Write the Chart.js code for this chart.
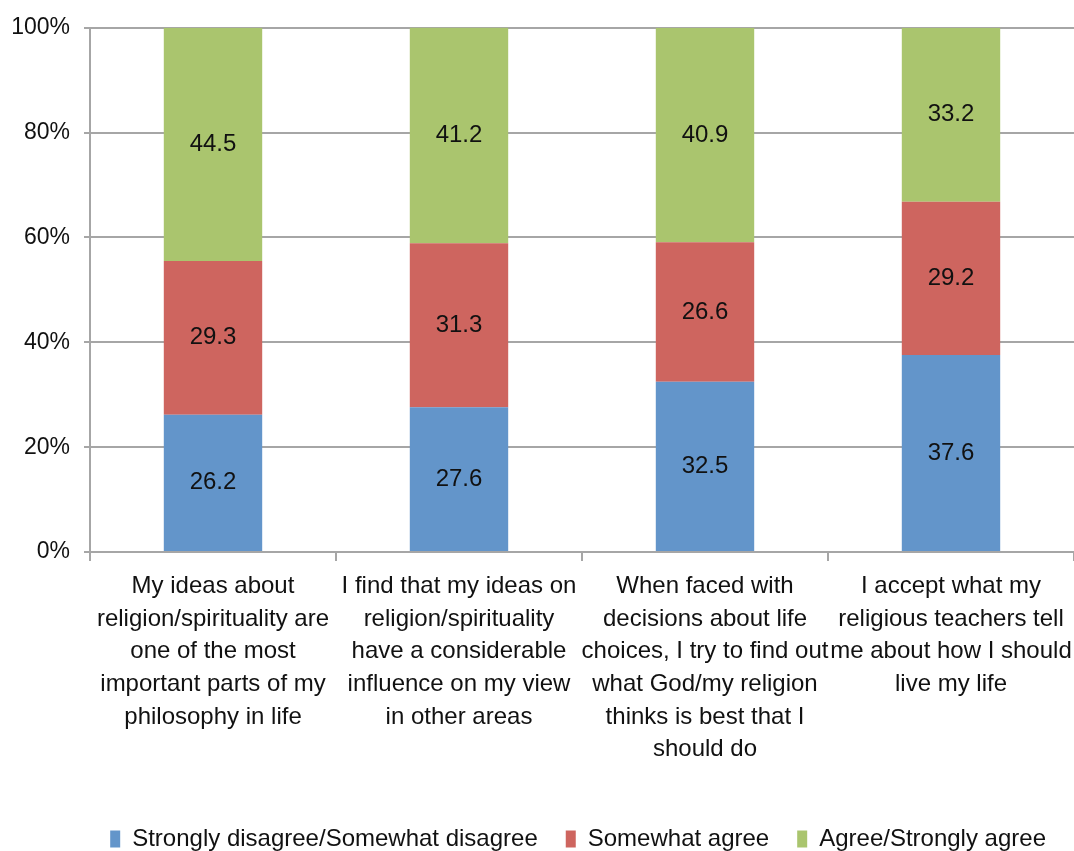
<!DOCTYPE html>
<html>
<head>
<meta charset="utf-8">
<script src="https://cdn.jsdelivr.net/npm/chart.js@4.4.1/dist/chart.umd.min.js"></script>
<style>
  html, body { margin: 0; padding: 0; background: #fff; }
  #wrap { width: 1074px; height: 851px; }
</style>
</head>
<body>
<div id="wrap"><canvas id="myChart"></canvas></div>
<script>
var categories = [
    ["My ideas about", "religion/spirituality are", "one of the most", "important parts of my", "philosophy in life"],
    ["I find that my ideas on", "religion/spirituality", "have a considerable", "influence on my view", "in other areas"],
    ["When faced with", "decisions about life", "choices, I try to find out", "what God/my religion", "thinks is best that I", "should do"],
    ["I accept what my", "religious teachers tell", "me about how I should", "live my life"]
];
var disagree = [26.2, 27.6, 32.5, 37.6];
var somewhat = [29.3, 31.3, 26.6, 29.2];
var agree = [44.5, 41.2, 40.9, 33.2];
var yTicks = [0, 20, 40, 60, 80, 100];

var font = "'Liberation Sans', Arial, sans-serif";

// draws the value in the middle of each bar segment
var valueLabels = {
    id: 'valueLabels',
    afterDatasetsDraw: function (chart) {
        var ctx = chart.ctx;
        ctx.save();
        ctx.font = '24px ' + font;
        ctx.fillStyle = '#111';
        ctx.textAlign = 'center';
        ctx.textBaseline = 'middle';
        chart.data.datasets.forEach(function (ds, i) {
            chart.getDatasetMeta(i).data.forEach(function (bar, j) {
                var mid = (bar.y + bar.base) / 2;
                ctx.fillText(ds.data[j].toFixed(1), bar.x, mid);
            });
        });
        ctx.restore();
    }
};

var ctx = document.getElementById('myChart').getContext('2d');
var chart = new Chart(ctx, {
    type: 'bar',
    data: {
        labels: categories,
        datasets: [
            {
                label: "Strongly disagree/Somewhat disagree",
                backgroundColor: 'rgb(99, 149, 202)',
                data: disagree
            },
            {
                label: "Somewhat agree",
                backgroundColor: 'rgb(206, 101, 95)',
                data: somewhat
            },
            {
                label: "Agree/Strongly agree",
                backgroundColor: 'rgb(170, 197, 110)',
                data: agree
            }
        ]
    },
    options: {
        responsive: true,
        maintainAspectRatio: false,
        animation: false,
        layout: { padding: { top: 15, right: 0, left: 0, bottom: -10 } },
        datasets: { bar: { categoryPercentage: 1, barPercentage: 0.4 } },
        plugins: {
            legend: {
                position: 'bottom',
                align: 'end',
                labels: {
                    font: { family: font, size: 24 },
                    color: '#111',
                    boxWidth: 10,
                    boxHeight: 17,
                    padding: 28
                }
            },
            tooltip: { enabled: false }
        },
        scales: {
            x: {
                stacked: true,
                afterFit: function (axis) {
                    axis.height = 247;
                    axis.paddingLeft = 0;
                    axis.paddingRight = 0;
                },
                grid: { drawOnChartArea: false, offset: true, tickLength: 9, color: '#a6a6a6', lineWidth: 2 },
                border: { color: '#a6a6a6', width: 2 },
                ticks: { font: { family: font, size: 24, lineHeight: 1.36 }, color: '#111', maxRotation: 0, autoSkip: false, padding: 9 }
            },
            y: {
                stacked: true,
                min: 0,
                max: 100,
                afterBuildTicks: function (axis) {
                    axis.ticks = yTicks.map(function (v) { return { value: v }; });
                },
                afterFit: function (axis) { axis.width = 90; },
                grid: { color: '#a6a6a6', lineWidth: 2, tickLength: 6 },
                border: { color: '#a6a6a6', width: 2 },
                ticks: {
                    font: { family: font, size: 23 },
                    color: '#111',
                    padding: 14,
                    callback: function (v) { return v + '%'; }
                }
            }
        }
    },
    plugins: [valueLabels]
});
</script>
</body>
</html>
